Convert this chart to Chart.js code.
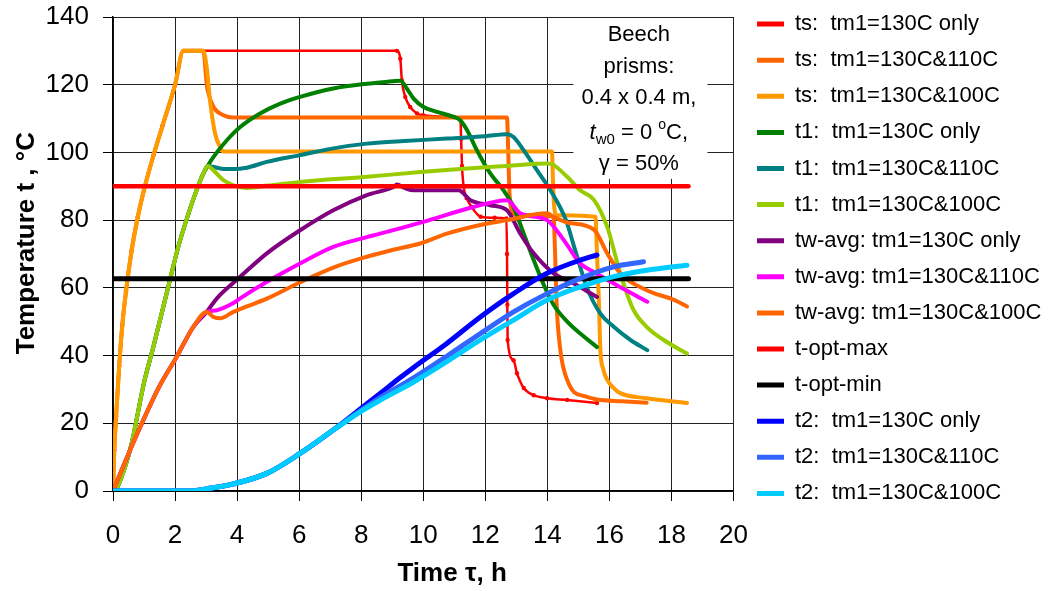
<!DOCTYPE html>
<html><head><meta charset="utf-8">
<script src="https://cdn.jsdelivr.net/npm/chart.js@4.4.1/dist/chart.umd.min.js"></script>
<style>html,body{margin:0;padding:0;background:#fff;} canvas{display:block;}</style>
</head><body>
<canvas id="c" width="1052" height="591"></canvas>
<script>
// ---------- data (time h, temperature °C) ----------
const seriesNames = [
  'ts:  tm1=130C only', 'ts:  tm1=130C&110C', 'ts:  tm1=130C&100C',
  't1:  tm1=130C only', 't1:  tm1=130C&110C', 't1:  tm1=130C&100C',
  'tw-avg: tm1=130C only', 'tw-avg: tm1=130C&110C', 'tw-avg: tm1=130C&100C',
  't-opt-max', 't-opt-min',
  't2:  tm1=130C only', 't2:  tm1=130C&110C', 't2:  tm1=130C&100C'
];
const xTickValues = [0, 2, 4, 6, 8, 10, 12, 14, 16, 18, 20];
const yTickValues = [0, 20, 40, 60, 80, 100, 120, 140];

const tsRamp = [[0,0],[0.04,12],[0.1,22],[0.2,37],[0.3,49],[0.42,59],[0.6,71],[0.8,81],[1.0,89],[1.3,99],[1.6,108],[2.0,120],[2.27,130]];
const tsOnlyRest = [[9.15,130],[9.26,127.7],[9.31,121.3],[9.42,116.4],[9.58,113.4],[9.8,111.5],[10.0,111],[11.0,110.5],[11.2,110],[11.22,104],[11.25,96],[11.3,90],[11.4,86.5],[11.55,84],[11.85,81],[12.3,80.7],[12.68,80.5],[12.7,70],[12.71,55],[12.72,44.6],[12.91,38.6],[13.02,34.8],[13.24,30.4],[13.56,28.3],[13.99,27.4],[14.64,26.9],[15.6,26]];
const ts110Rest = [[2.91,130],[3.02,120.3],[3.05,118.4],[3.24,113.4],[3.56,111],[3.88,110.3],[12.7,110.3],[12.74,100],[12.78,88],[12.85,83],[13.0,81.5],[14.2,81],[14.25,70],[14.3,55],[14.4,43],[14.5,37],[14.7,31.5],[14.85,29.3],[15.2,28],[15.6,27],[16.4,26.5],[17.2,26.1]];
const ts100Rest = [[2.91,130],[3.02,125.2],[3.13,115.1],[3.29,105.6],[3.45,101.6],[3.56,100.3],[14.15,100.3],[14.18,92],[14.22,84],[14.3,81.5],[15.55,81],[15.6,70],[15.66,56.4],[15.71,41.6],[15.8,36],[15.93,32.8],[16.14,30.4],[16.35,28.9],[17.2,27.4],[18.5,26]];

const t1Ramp = [[0,0],[0.1,0.5],[0.35,6],[0.6,14],[1.0,32],[1.3,42.5],[1.57,52.5],[1.84,62.5],[2.1,72],[2.4,81],[2.7,89],[2.9,93.5],[3.05,96]];
const t1OnlyRest = [[3.24,98.7],[3.67,103.6],[4.1,107.5],[4.74,111.5],[5.39,114.4],[6.03,116.4],[7.1,118.9],[8.18,120.3],[9.0,121],[9.26,121.2],[9.47,118.9],[9.69,115.9],[10.01,113.4],[10.44,112],[10.98,110.5],[11.19,109.5],[11.41,106.6],[11.73,100.6],[12.16,93.8],[12.59,88.8],[12.91,83.9],[13.24,76],[13.56,68.2],[13.88,61],[14.2,55],[14.64,50],[15.06,46.5],[15.6,42.5]];
const t1110Rest = [[3.2,95.8],[3.5,95.2],[3.88,95.1],[4.31,95.5],[4.96,97.2],[6.03,99.2],[7.1,101.2],[8.18,102.6],[9.26,103.3],[10.76,104.1],[12.0,104.8],[12.7,105.4],[12.9,104.6],[13.24,100.6],[13.67,94.7],[14.1,88.8],[14.6,80],[14.9,71],[15.28,60],[15.71,52.4],[16.14,48.5],[16.68,44.6],[17.22,41.6]];
const t1100Rest = [[3.24,94.7],[3.56,91.8],[3.88,90.3],[4.31,89.5],[5.0,90.2],[6.03,91.3],[8.18,92.8],[9.9,94.2],[11.3,95.2],[12.7,96],[14.0,96.7],[14.15,96.5],[14.64,92.8],[15.06,88.8],[15.5,86],[15.93,78],[16.35,64.3],[16.78,53.4],[17.2,48.5],[17.75,44.6],[18.5,40.6]];

const twRamp = [[0,0],[0.5,11],[0.98,21],[1.5,31],[2.05,39.6],[2.59,48.5],[3.02,52.9]];
const twOnlyRest = [[3.35,56.9],[3.88,61.5],[4.1,63.3],[4.96,70.2],[6.03,77],[7.1,82.9],[8.18,87.4],[9.04,89.8],[9.15,90.5],[9.4,89.5],[9.69,88.8],[11.14,88.8],[11.52,85.9],[12.16,84.4],[12.7,82.9],[13.13,76],[13.56,70.2],[14.2,64.3],[14.85,61.3],[15.6,57.3]];
const tw110Rest = [[3.35,53.4],[3.88,55.5],[4.1,56.9],[4.96,61.8],[6.03,67.2],[7.1,72.1],[8.18,75],[8.61,76],[10.0,79.5],[11.62,83.9],[12.7,85.9],[13.13,82],[13.99,80],[14.53,74.1],[15.06,67.2],[15.5,64.7],[16.14,61.3],[17.22,55.9]];
const tw100Rest = [[3.24,51.4],[3.45,51],[3.88,52.9],[4.31,54.5],[4.96,56.8],[6.0,61.5],[7.1,66],[8.18,69.2],[9.0,71.2],[9.9,73.1],[10.76,76],[11.8,78.5],[12.7,80],[13.99,82],[14.2,81],[14.64,79.3],[15.5,77.2],[15.93,70.2],[16.35,64.3],[17.2,59.3],[18.1,56.4],[18.5,54.5]];

const tOptMax = [[0,90],[18.55,90]];
const tOptMin = [[0,62.7],[18.55,62.7]];

const t2Ramp = [[0,0],[2.48,0],[3.13,0.8],[3.88,2.1],[4.96,5.2],[6.03,11.1],[7.1,18]];
const t2OnlyRest = [[7.97,24.2],[8.61,28.8],[9.26,33.5],[9.69,36.5],[10.76,43.6],[11.84,51.4],[12.91,58.3],[13.99,64.3],[15.06,68.2],[15.6,69.7]];
const t2110Rest = [[7.97,23.7],[8.61,27.6],[9.69,33.4],[10.76,39.8],[11.84,46.5],[12.91,52.9],[13.99,58.3],[15.06,62.8],[16.14,66.2],[17.1,67.7]];
const t2100Rest = [[7.97,23.4],[8.61,26.8],[9.69,32.2],[10.76,38.2],[11.84,44.6],[12.91,50.5],[13.99,56.4],[15.06,60.3],[16.14,63.3],[17.2,65.2],[18.5,66.7]];

// ---------- styles ----------
const seriesColors = ['#FF0000','#FF6600','#FF9900','#008000','#008080','#99CC00','#800080','#FF00FF','#FF6600','#FF0000','#000000','#0000FF','#3366FF','#00CCFF'];
const seriesWidths = [2.5,4,4,4,4,4,4,4,4,4.5,5,5,5,5];
const seriesPointR = [2.2,0,0,0,0,0,0,0,0,0,0,0,0,0];

const seriesData = [
  tsRamp.concat(tsOnlyRest), tsRamp.concat(ts110Rest), tsRamp.concat(ts100Rest),
  t1Ramp.concat(t1OnlyRest), t1Ramp.concat(t1110Rest), t1Ramp.concat(t1100Rest),
  twRamp.concat(twOnlyRest), twRamp.concat(tw110Rest), twRamp.concat(tw100Rest),
  tOptMax, tOptMin,
  t2Ramp.concat(t2OnlyRest), t2Ramp.concat(t2110Rest), t2Ramp.concat(t2100Rest)
];

const FONT = '"Liberation Sans", Arial, Helvetica, sans-serif';
Chart.defaults.font.family = FONT;
Chart.defaults.color = '#000';

const datasets = seriesData.map((pts, i) => ({
  label: seriesNames[i],
  data: pts.map(p => ({x: p[0], y: p[1]})),
  showLine: true,
  borderColor: seriesColors[i],
  backgroundColor: seriesColors[i],
  borderWidth: seriesWidths[i],
  pointRadius: seriesPointR[i],
  pointBorderWidth: 0,
  pointBackgroundColor: seriesColors[i],
  cubicInterpolationMode: 'monotone',
  borderCapStyle: 'round',
  borderJoinStyle: 'round',
  fill: false,
  order: seriesData.length - 1 - i
}));

const notePlugin = {
  id: 'note',
  beforeDatasetsDraw(chart) {
    const ctx = chart.ctx, xs = chart.scales.x, ys = chart.scales.y;
    const l = xs.getPixelForValue(14.84), r = xs.getPixelForValue(19.16);
    const t = ys.getPixelForValue(140) + 1, b = ys.getPixelForValue(92.2);
    ctx.save();
    ctx.fillStyle = '#fff';
    ctx.fillRect(l, t, r - l, b - t);
    const cx = xs.getPixelForValue(16.95);
    const top = ys.getPixelForValue(140);
    ctx.fillStyle = '#000';
    ctx.textAlign = 'center';
    ctx.textBaseline = 'middle';
    ctx.font = '22px ' + FONT;
    ctx.fillText('Beech', cx, top + 18);
    ctx.fillText('prisms:', cx, top + 50);
    ctx.fillText('0.4 x 0.4 m,', cx, top + 81);
    ctx.fillText('\u03B3 = 50%', cx, top + 147);
    // composite line: t_w0 = 0 °C,
    const base = top + 114 + 8;
    const parts = [
      {s: 't', f: 'italic 22px ' + FONT, dy: 0},
      {s: 'w0', f: '15px ' + FONT, dy: 5},
      {s: ' = 0 ', f: '22px ' + FONT, dy: 0},
      {s: 'o', f: '14px ' + FONT, dy: -10},
      {s: 'C,', f: '22px ' + FONT, dy: 0}
    ];
    let w = 0;
    parts.forEach(p => { ctx.font = p.f; p.w = ctx.measureText(p.s).width; w += p.w; });
    let x = cx - w / 2;
    ctx.textAlign = 'left';
    ctx.textBaseline = 'alphabetic';
    parts.forEach(p => { ctx.font = p.f; ctx.fillText(p.s, x, base + p.dy); x += p.w; });
    ctx.restore();
  }
};

const legendShift = {
  id: 'legendShift',
  afterLayout(chart) {
    const lg = chart.legend;
    if (!lg) return;
    const dx = 757 - 14.1 - lg.left;
    lg.left += dx; lg.right += dx;
    lg.top = -1;
  }
};

new Chart(document.getElementById('c'), {
  type: 'scatter',
  data: { datasets },
  plugins: [notePlugin, legendShift],
  options: {
    responsive: false,
    animation: false,
    devicePixelRatio: 1,
    layout: { padding: { left: 0, right: 10, top: 17, bottom: 0 } },
    plugins: {
      tooltip: { enabled: false },
      legend: {
        position: 'right',
        align: 'start',
        maxWidth: 309,
        labels: {
          font: { size: 22, family: FONT },
          color: '#000',
          boxWidth: 27,
          boxHeight: 5,
          padding: 14.1,
          sort: (a, b) => a.datasetIndex - b.datasetIndex,
          generateLabels(chart) {
            const items = Chart.defaults.plugins.legend.labels.generateLabels(chart);
            items.forEach(it => { it.lineWidth = 0; it.fillStyle = it.strokeStyle; });
            return items;
          }
        }
      }
    },
    scales: {
      x: {
        type: 'linear', min: 0, max: 20,
        afterBuildTicks: s => { s.ticks = xTickValues.map(v => ({value: v})); },
        ticks: { font: { size: 26 }, color: '#000', padding: 19, maxRotation: 0 },
        grid: { color: '#222', lineWidth: 1, tickLength: 10, tickColor: '#000' },
        border: { color: '#000', width: 1.5 },
        title: { display: true, text: '        Time \u03C4, h', font: { size: 26, weight: 'bold' }, color: '#000', padding: { top: 0, bottom: 2 } },
        afterFit: s => { s.height = 100; s.paddingRight = 0; }
      },
      y: {
        type: 'linear', min: 0, max: 140,
        afterBuildTicks: s => { s.ticks = yTickValues.map(v => ({value: v})); },
        ticks: { font: { size: 26 }, color: '#000', padding: 14 },
        grid: { color: '#222', lineWidth: 1, tickLength: 10, tickColor: '#000' },
        border: { color: '#000', width: 1.5 },
        title: { display: true, text: '   Temperature t , \u00B0C', font: { size: 26, weight: 'bold' }, color: '#000', padding: { top: 11, bottom: 0 } },
        afterFit: s => { s.width = 113; s.paddingTop = 0; s.paddingBottom = 0; }
      }
    }
  }
});
</script>
</body></html>
